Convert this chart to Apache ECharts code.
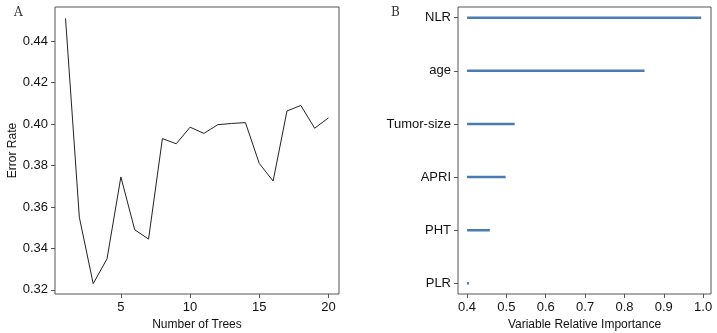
<!DOCTYPE html>
<html>
<head>
<meta charset="utf-8">
<script src="https://cdn.jsdelivr.net/npm/echarts@6/dist/echarts.min.js"></script>
<style>
    html, body { margin: 0; padding: 0; background: #fff; }
    #main { width: 717px; height: 333px; }
</style>
</head>
<body>
<div id="main"></div>
<script>
    // panel A: error rate vs number of trees
    var trees = [1, 2, 3, 4, 5, 6, 7, 8, 9, 10, 11, 12, 13, 14, 15, 16, 17, 18, 19, 20];
    var errorRate = [0.451, 0.355, 0.323, 0.335, 0.3745, 0.349, 0.3445, 0.393, 0.3905, 0.3985, 0.3955, 0.3997, 0.4003, 0.4007, 0.381, 0.3725, 0.4063, 0.409, 0.398, 0.403];
    var treeTicks = [5, 10, 15, 20];
    var errTicks = [0.32, 0.34, 0.36, 0.38, 0.40, 0.42, 0.44];

    // panel B: variable relative importance
    var variables = ['NLR', 'age', 'Tumor-size', 'APRI', 'PHT', 'PLR'];
    var importance = [0.995, 0.851, 0.521, 0.498, 0.458, 0.405];
    var importanceBase = 0.4;
    var impTicks = [0.4, 0.5, 0.6, 0.7, 0.8, 0.9, 1.0];

    var font = 'Liberation Sans, Arial, sans-serif';
    var boxColor = '#555';

    function axisCommon(ticks, fmt) {
        return {
            axisLine: { show: false },
            splitLine: { show: false },
            axisTick: { show: true, length: 4, inside: false, customValues: ticks, lineStyle: { color: boxColor } },
            axisLabel: { show: true, customValues: ticks, color: '#111', fontFamily: font, fontSize: 13, margin: 7, formatter: fmt }
        };
    }

    var xA = Object.assign({
        type: 'value', gridIndex: 0, min: 0.24, max: 20.76,
        name: 'Number of Trees', nameLocation: 'middle', nameGap: 22,
        nameTextStyle: { color: '#111', fontFamily: font, fontSize: 12 }
    }, axisCommon(treeTicks, function (v) { return String(v); }));

    var yA = Object.assign({
        type: 'value', gridIndex: 0, min: 0.318, max: 0.4565,
        name: 'Error Rate', nameLocation: 'middle', nameGap: 36,
        nameTextStyle: { color: '#111', fontFamily: font, fontSize: 12 }
    }, axisCommon(errTicks, function (v) { return v.toFixed(2); }));

    var xB = Object.assign({
        type: 'value', gridIndex: 1, min: 0.377, max: 1.02,
        name: 'Variable Relative Importance', nameLocation: 'middle', nameGap: 22,
        nameTextStyle: { color: '#111', fontFamily: font, fontSize: 12 }
    }, axisCommon(impTicks, function (v) { return v.toFixed(1); }));

    var yB = Object.assign({
        type: 'value', gridIndex: 1, min: 0.8, max: 6.2, inverse: true
    }, axisCommon([1, 2, 3, 4, 5, 6], function (v) { return variables[Math.round(v) - 1] || ''; }));

    var seriesB = variables.map(function (name, i) {
        return {
            type: 'line', name: name, xAxisIndex: 1, yAxisIndex: 1,
            data: [[importanceBase, i + 1], [importance[i], i + 1]],
            symbol: 'none', silent: true,
            lineStyle: { color: '#4a7bb2', width: 2.5 }
        };
    });

    var option = {
        animation: false,
        backgroundColor: '#fff',
        title: [
            { text: 'A', left: 9, top: 2, textStyle: { fontFamily: 'DejaVu Serif, serif', fontWeight: 'normal', fontSize: 12, color: '#333' } },
            { text: 'B', left: 386, top: 2, textStyle: { fontFamily: 'DejaVu Serif, serif', fontWeight: 'normal', fontSize: 12, color: '#333' } }
        ],
        grid: [
            { left: 55, right: 378, top: 7, bottom: 39, outerBoundsMode: 'none', containLabel: false, show: true, borderColor: boxColor, borderWidth: 1, backgroundColor: 'transparent' },
            { left: 458, right: 6, top: 7, bottom: 39, outerBoundsMode: 'none', containLabel: false, show: true, borderColor: boxColor, borderWidth: 1, backgroundColor: 'transparent' }
        ],
        xAxis: [xA, xB],
        yAxis: [yA, yB],
        series: [{
            type: 'line', xAxisIndex: 0, yAxisIndex: 0,
            data: trees.map(function (t, i) { return [t, errorRate[i]]; }),
            symbol: 'none', silent: true,
            lineStyle: { color: '#222', width: 1 }
        }].concat(seriesB)
    };

    echarts.init(document.getElementById('main')).setOption(option);
</script>
</body>
</html>
